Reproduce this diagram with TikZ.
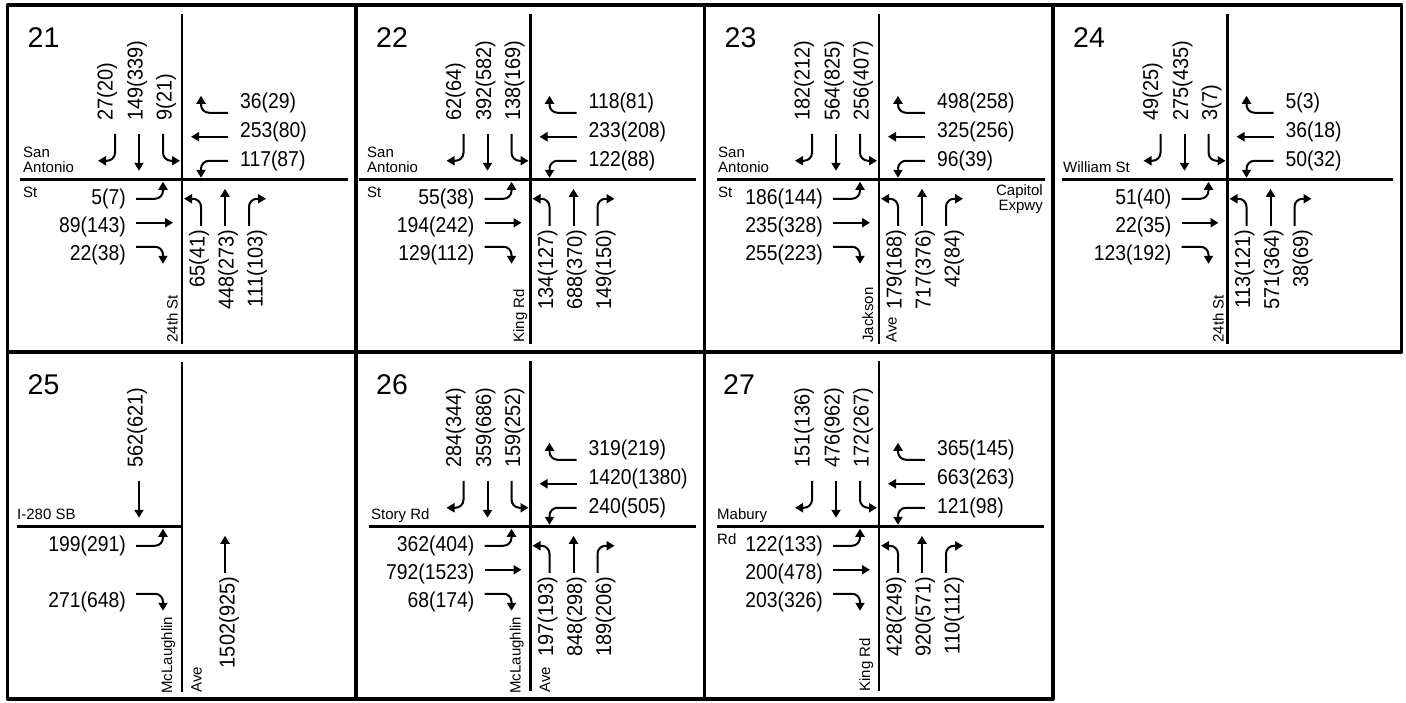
\documentclass[tikz,border=0pt]{standalone}
\usepackage{fontspec}
\setmainfont{Liberation Sans}
\newfontfamily\numH[FakeStretch=0.9]{Liberation Sans}
\newfontfamily\numV[FakeStretch=0.93]{Liberation Sans}
\usetikzlibrary{arrows.meta}
\tikzset{
  border/.style={line width=3.2pt, line join=round},
  street/.style={line width=2.6pt},
  arr/.style={line width=2pt, -{Triangle[length=8pt,width=9pt]}, rounded corners=8pt},
  hlab/.style={inner sep=0pt, font=\numH\fontsize{21.5}{24}\selectfont},
  vlab/.style={inner sep=0pt, rotate=90, font=\numV\fontsize{21.5}{24}\selectfont},
  sname/.style={inner sep=0pt, anchor=base west, font=\fontsize{15}{17}\selectfont},
  vsname/.style={sname, rotate=90},
  pnum/.style={inner sep=0pt, anchor=base west, font=\fontsize{28.5}{30}\selectfont},
}
% lane arrows, drawn for the northbound approach and rotated
\newcommand\tmL[1]{\draw[arr,rotate=#1] (19,46) -- (19,19) -- (2,19);}
\newcommand\tmT[1]{\draw[arr,rotate=#1] (43,46) -- (43,9);}
\newcommand\tmR[1]{\draw[arr,rotate=#1] (67,46) -- (67,19) -- (84,19);}
\newcommand\allarr{\foreach \r in {0,90,180,270}{\tmL{\r}\tmT{\r}\tmR{\r}}}
% labels
\newcommand\sbl[4]{%
  \node[vlab,anchor=west] (#1sbl) at (-16,-59) {#2};
  \node[vlab,anchor=west] (#1sbt) at (-45,-59) {#3};
  \node[vlab,anchor=west] (#1sbr) at (-75,-59) {#4};}
\newcommand\nbl[4]{%
  \node[vlab,anchor=east] (#1nbl) at (17,50) {#2};
  \node[vlab,anchor=east] (#1nbt) at (46,50) {#3};
  \node[vlab,anchor=east] (#1nbr) at (75,50) {#4};}
\newcommand\ebl[4]{%
  \node[hlab,anchor=east] (#1ebl) at (-56,19) {#2};
  \node[hlab,anchor=east] (#1ebt) at (-56,47) {#3};
  \node[hlab,anchor=east] (#1ebr) at (-56,75) {#4};}
\newcommand\wbl[4]{%
  \node[hlab,anchor=west] (#1wbl) at (58,-19) {#2};
  \node[hlab,anchor=west] (#1wbt) at (58,-48) {#3};
  \node[hlab,anchor=west] (#1wbr) at (58,-77) {#4};}
\newcommand\vstreet{\draw[street] (0,-166) -- (0,164);}
\begin{document}
\begin{tikzpicture}[x=1pt,y=-1pt]
\useasboundingbox[fill=white] (0,0) rectangle (1406,702);
% frame
\draw[border] (7.5,5) -- (1401.5,5) -- (1401.5,352) -- (1053,352) -- (1053,699) -- (7.5,699) -- cycle;
\draw[border] (7.5,352) -- (1053,352);
\draw[border] (356,5) -- (356,699);
\draw[border] (704.5,5) -- (704.5,699);
\draw[border] (1053,5) -- (1053,352);

% ---------- 21 ----------
\begin{scope}[shift={(182,179.75)}]
\vstreet \draw[street] (-162.5,0) -- (165.5,0);
\node[pnum] (n21) at (-154.5,-132.75) {21};
\allarr
\sbl{a}{9(21)}{149(339)}{27(20)}
\wbl{a}{117(87)}{253(80)}{36(29)}
\ebl{a}{5(7)}{89(143)}{22(38)}
\nbl{a}{65(41)}{448(273)}{111(103)}
\node[sname] (a1) at (-159,-22.5) {San};
\node[sname] (a2) at (-159,-7.5) {Antonio};
\node[sname] (a3) at (-159,18) {St};
\node[vsname] (a4) at (-4.5,163) {24th St};
\end{scope}

% ---------- 22 ----------
\begin{scope}[shift={(530.5,179.75)}]
\vstreet \draw[street] (-171.5,0) -- (165.5,0);
\node[pnum] (n22) at (-154.5,-132.75) {22};
\allarr
\sbl{b}{138(169)}{392(582)}{62(64)}
\wbl{b}{122(88)}{233(208)}{118(81)}
\ebl{b}{55(38)}{194(242)}{129(112)}
\nbl{b}{134(127)}{688(370)}{149(150)}
\node[sname] (b1) at (-163.5,-22.5) {San};
\node[sname] (b2) at (-163.5,-7.5) {Antonio};
\node[sname] (b3) at (-163.5,18) {St};
\node[vsname] (b4) at (-6.5,163) {King Rd};
\end{scope}

% ---------- 23 ----------
\begin{scope}[shift={(879,179.75)}]
\vstreet \draw[street] (-162.5,0) -- (165.5,0);
\node[pnum] (n23) at (-154.5,-132.75) {23};
\allarr
\sbl{c}{256(407)}{564(825)}{182(212)}
\wbl{c}{96(39)}{325(256)}{498(258)}
\ebl{c}{186(144)}{235(328)}{255(223)}
\nbl{c}{179(168)}{717(376)}{42(84)}
\node[sname] (c1) at (-161,-22.5) {San};
\node[sname] (c2) at (-161,-7.5) {Antonio};
\node[sname] (c3) at (-161,18) {St};
\node[sname,anchor=base east] (c4) at (164,16) {Capitol};
\node[sname,anchor=base east] (c5) at (164,31) {Expwy};
\node[vsname] (c6) at (-6,163) {Jackson};
\node[vsname] (c7) at (17.5,163) {Ave};
\end{scope}

% ---------- 24 ----------
\begin{scope}[shift={(1227.5,179.75)}]
\vstreet \draw[street] (-165.5,0) -- (165.5,0);
\node[pnum] (n24) at (-154.5,-132.75) {24};
\allarr
\sbl{d}{3(7)}{275(435)}{49(25)}
\wbl{d}{50(32)}{36(18)}{5(3)}
\ebl{d}{51(40)}{22(35)}{123(192)}
\nbl{d}{113(121)}{571(364)}{38(69)}
\node[sname] (d1) at (-164.5,-7.5) {William St};
\node[vsname] (d2) at (-4,163) {24th St};
\end{scope}

% ---------- 25 ----------
\begin{scope}[shift={(182,526.75)}]
\draw[street] (0,-165) -- (0,165);
\draw[street] (-165,0) -- (0,0);
\node[pnum] (n25) at (-154.5,-132.75) {25};
\tmT{180} \tmL{270} \tmR{270} \tmT{0}
\node[vlab,anchor=west] (esbt) at (-45,-59) {562(621)};
\node[hlab,anchor=east] (eebl) at (-56,19) {199(291)};
\node[hlab,anchor=east] (eebr) at (-56,75) {271(648)};
\node[vlab,anchor=east] (enbt) at (47,50) {1502(925)};
\node[sname] (e1) at (-165,-7.5) {I-280 SB};
\node[vsname] (e2) at (-10,167) {McLaughlin};
\node[vsname] (e3) at (19.5,166) {Ave};
\end{scope}

% ---------- 26 ----------
\begin{scope}[shift={(530.5,526.75)}]
\vstreet \draw[street] (-161.5,0) -- (165.5,0);
\node[pnum] (n26) at (-154.5,-132.75) {26};
\allarr
\sbl{f}{159(252)}{359(686)}{284(344)}
\wbl{f}{240(505)}{1420(1380)}{319(219)}
\ebl{f}{362(404)}{792(1523)}{68(174)}
\nbl{f}{197(193)}{848(298)}{189(206)}
\node[sname] (f1) at (-159.5,-7.5) {Story Rd};
\node[vsname] (f2) at (-10,167) {McLaughlin};
\node[vsname] (f3) at (19.5,166) {Ave};
\end{scope}

% ---------- 27 ----------
\begin{scope}[shift={(879,526.75)}]
\vstreet \draw[street] (-162,0) -- (165,0);
\node[pnum] (n27) at (-156,-132.75) {27};
\allarr
\sbl{g}{172(267)}{476(962)}{151(136)}
\wbl{g}{121(98)}{663(263)}{365(145)}
\ebl{g}{122(133)}{200(478)}{203(326)}
\nbl{g}{428(249)}{920(571)}{110(112)}
\node[sname] (g1) at (-162,-7.5) {Mabury};
\node[sname] (g2) at (-162,18) {Rd};
\node[vsname] (g3) at (-9,165) {King Rd};
\end{scope}
\end{tikzpicture}
\end{document}
